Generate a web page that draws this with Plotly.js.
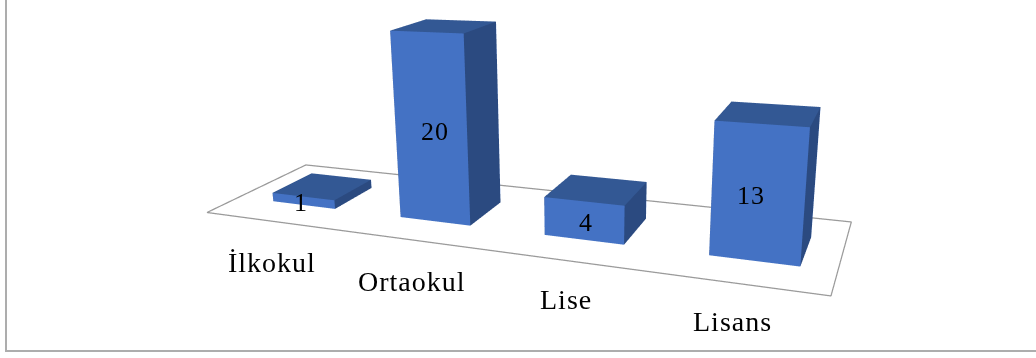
<!DOCTYPE html>
<html>
<head>
<meta charset="utf-8">
<script src="https://cdn.plot.ly/plotly-3.0.1.min.js"></script>
<style>
html,body{margin:0;padding:0;background:#fff;overflow:hidden;width:1036px;height:358px}
#frame{position:relative;width:1036px;height:358px;overflow:hidden}
#chart{position:absolute;left:-97px;top:-236px;width:1136px;height:832px}
.annotation-text{letter-spacing:1px}
</style>
</head>
<body>
<div id="frame"><div id="chart"></div></div>
<script>
const categories = ["İlkokul", "Ortaokul", "Lise", "Lisans"];
const counts = [1, 20, 4, 13];
const slots = [0, 1, 2, 3];

const barHalfWidth = 0.25;
const barHalfDepth = 0.205;
const floorHalfDepth = 0.5;
const colorFront = "#4472c4";
const colorSide = "#2b4a80";
const colorTop = "#335894";
const serif = "Liberation Serif, serif";

// The figure is larger than the visible frame: the scene has a fixed field of
// view, so a taller canvas gives the flatter perspective this view needs.
const figLeft = -97, figWidth = 1136, figHeight = 832, figTop = 236;

// Pixel nudges for the labels, which do not follow the floor's slant
const labelShiftX = [11, 1, -18, -54];
const labelShiftY = [-6, -2, 6, 15];
const valueShiftX = [-2, 4, 2, -7];
const valueShiftY = -2;

// A box built from 8 corners and 10 triangles, coloured face by face
function boxMesh(cx, h) {
  const x0 = cx - barHalfWidth, x1 = cx + barHalfWidth;
  const y0 = -barHalfDepth, y1 = barHalfDepth;
  return {
    type: "mesh3d",
    x: [x0, x1, x1, x0, x0, x1, x1, x0],
    y: [y0, y0, y1, y1, y0, y0, y1, y1],
    z: [0, 0, 0, 0, h, h, h, h],
    i: [0, 0, 1, 1, 4, 4, 3, 3, 0, 0],
    j: [1, 5, 2, 6, 5, 6, 2, 6, 3, 7],
    k: [5, 4, 6, 5, 6, 7, 6, 7, 7, 4],
    facecolor: [colorFront, colorFront, colorSide, colorSide, colorTop, colorTop,
                colorFront, colorFront, colorSide, colorSide],
    flatshading: true,
    lighting: {ambient: 1, diffuse: 0, specular: 0, roughness: 1, fresnel: 0},
    hoverinfo: "skip", showscale: false
  };
}

const xMin = -0.54, xMax = 3.445;

// Floor rectangle outline
const floorOutline = {
  type: "scatter3d", mode: "lines",
  x: [xMin, xMax, xMax, xMin, xMin],
  y: [-floorHalfDepth, -floorHalfDepth, floorHalfDepth, floorHalfDepth, -floorHalfDepth],
  z: [0, 0, 0, 0, 0],
  line: {color: "#9a9a9a", width: 2.5}, hoverinfo: "skip", showlegend: false
};

const bars = slots.map((p, n) => boxMesh(p, counts[n]));

// Value labels sit on the centre of each bar's front face
const valueAnnotations = counts.map((v, n) => ({
  x: slots[n], y: -barHalfDepth, z: v / 2,
  xshift: valueShiftX[n], yshift: valueShiftY,
  text: String(v), showarrow: false,
  font: {family: serif, size: 26, color: "#000"}
}));

// Category labels lie on a line in front of the floor
const categoryAnnotations = categories.map((c, n) => ({
  x: slots[n] + 0.3, y: -0.96, z: 0,
  xshift: labelShiftX[n], yshift: labelShiftY[n],
  text: c, showarrow: false,
  font: {family: serif, size: 28, color: "#000"}
}));

const pxX = px => (px - figLeft) / figWidth;
const pxY = py => 1 - (py + figTop) / figHeight;

const frameLine = {color: "#adadad", width: 2};

Plotly.newPlot("chart", [floorOutline, ...bars], {
  width: figWidth, height: figHeight,
  margin: {l: 0, r: 0, t: 0, b: 0},
  paper_bgcolor: "#fff",
  showlegend: false,
  shapes: [
    {type: "line", xref: "paper", yref: "paper", x0: pxX(6), x1: pxX(6), y0: pxY(-5), y1: pxY(351), line: frameLine},
    {type: "line", xref: "paper", yref: "paper", x0: pxX(5), x1: pxX(1038), y0: pxY(351), y1: pxY(351), line: frameLine}
  ],
  scene: {
    domain: {x: [0, 1], y: [0, 1]},
    aspectmode: "manual",
    aspectratio: {x: 2.331, y: 1.671, z: 0.8505},
    xaxis: {visible: false, range: [-1, 4]},
    yaxis: {visible: false, range: [-1.5, 1.5]},
    zaxis: {visible: false, range: [-5, 25]},
    camera: {
      eye: {x: 1.0715, y: -2.6345, z: 0.7165},
      center: {x: -0.0997, y: -0.1347, z: -0.135},
      up: {x: -0.102, y: 0.298, z: 0.952},
      projection: {type: "perspective"}
    },
    annotations: [...valueAnnotations, ...categoryAnnotations]
  }
}, {displayModeBar: false});
</script>
</body>
</html>
